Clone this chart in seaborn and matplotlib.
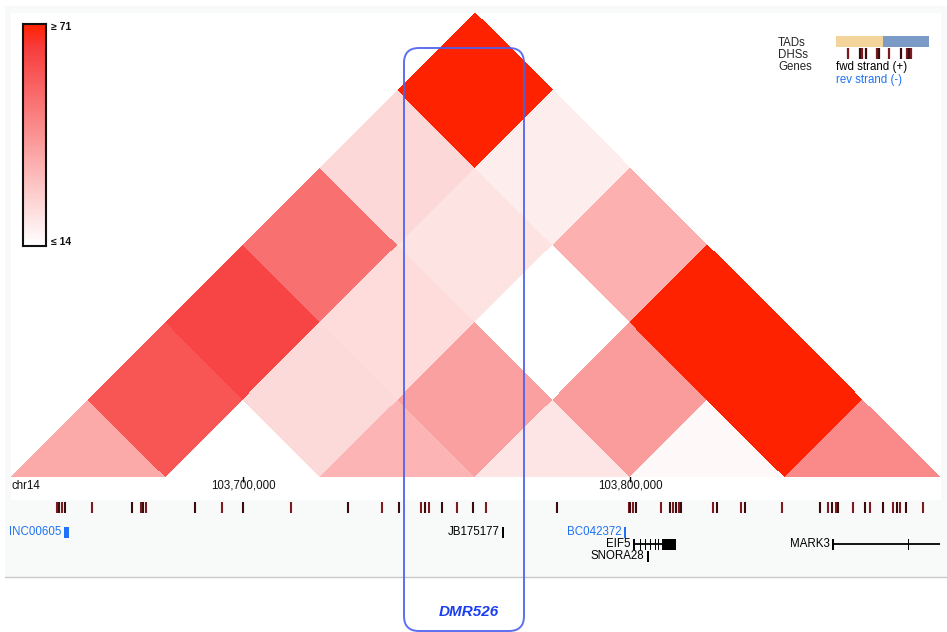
import numpy as np
import pandas as pd
import matplotlib
matplotlib.use("Agg")
import matplotlib.pyplot as plt
import seaborn as sns
from matplotlib.colors import LinearSegmentedColormap
from matplotlib.transforms import Affine2D, offset_copy
from matplotlib.patches import Rectangle, FancyBboxPatch

sns.set_theme(style="white")
plt.rcParams["font.family"] = ["Liberation Sans", "DejaVu Sans"]

# ---------------- data ----------------
CHROM = "chr14"
BIN_SIZE = 40_000
bin_starts = [103_640_000, 103_680_000, 103_720_000, 103_760_000, 103_800_000, 103_840_000]
nan = np.nan
# upper-triangle contact matrix (lower triangle unused)
contacts = [
    [36.6, 58.7, 63.2, 51.6, 24.3, 72.0],
    [nan, 12.0, 24.0, 23.2, 21.4, 18.7],
    [nan, nan, 33.7, 39.0, 10.0, 34.8],
    [nan, nan, nan, 21.1, 40.0, 78.0],
    [nan, nan, nan, nan, 15.8, 74.0],
    [nan, nan, nan, nan, nan, 44.8],
]
color_min, color_max = 14, 71

axis_ticks = [103_700_000, 103_800_000]
axis_tick_labels = ["103,700,000", "103,800,000"]

dhs_kb = [103651.9, 103652.5, 103653.2, 103654.0, 103661.0, 103671.3, 103673.6,
          103674.2, 103674.9, 103687.6, 103694.6, 103700.0, 103712.4, 103727.1,
          103735.9, 103740.3, 103746.0, 103747.0, 103748.1, 103751.4, 103755.3,
          103759.4, 103762.8, 103781.1, 103799.7, 103800.0, 103800.8, 103801.6,
          103808.0, 103810.3, 103811.1, 103811.9, 103812.7, 103813.2, 103821.4,
          103822.5, 103828.7, 103829.7, 103839.3, 103849.1, 103851.2, 103852.2,
          103853.2, 103853.7, 103857.6, 103860.7, 103862.0, 103865.4, 103868.0,
          103869.0, 103869.8, 103871.3, 103875.7]

gene_names = ["INC00605", "JB175177", "BC042372", "EIF5", "SNORA28", "MARK3"]
gene_starts = [103_653_750, 103_766_900, 103_798_400, 103_800_800, 103_804_400, 103_852_200]
gene_ends = [103_655_050, 103_767_400, 103_798_900, 103_811_900, 103_804_900, 103_880_200]
gene_strands = ["-", "+", "-", "+", "+", "+"]
gene_rows = [532, 532, 532, 544, 556, 544]
gene_exons = [
    [(103_653_750, 103_655_050)],
    [(103_766_900, 103_767_400)],
    [(103_798_400, 103_798_900)],
    [(103_800_800, 103_801_300), (103_802_500, 103_802_800), (103_803_800, 103_804_100),
     (103_805_100, 103_805_400), (103_806_400, 103_806_700), (103_807_100, 103_807_400),
     (103_808_300, 103_811_900)],
    [(103_804_400, 103_804_900)],
    [(103_852_200, 103_852_800), (103_871_700, 103_872_100)],
]

region_name = "DMR526"

# ---------------- layout ----------------
W, H = 947, 632
VIEW = (103_637_200, 103_881_900)
BASE_Y = 477          # pixel row of the heatmap baseline
LEVEL_PX = 77.33      # height of one diagonal step
FWD_COLOR = "black"
REV_COLOR = "#1f72f5"
DHS_COLORS = ["#7d1a1f", "#3a0c0e"]

fig = plt.figure(figsize=(W / 100, H / 100), dpi=100)

def pixel_axes(z):
    a = fig.add_axes([0, 0, 1, 1], zorder=z)
    a.set_xlim(0, W)
    a.set_ylim(H, 0)
    a.set_axis_off()
    a.patch.set_visible(False)
    return a

# background panels
ax_back = pixel_axes(0)
ax_back.add_patch(Rectangle((5, 6), W - 5, 571, fc="#f8f9f9", ec="none"))
ax_back.add_patch(Rectangle((11, 13), 930, 487, fc="white", ec="none"))
ax_back.plot([5, W], [577, 577], color="#c9c9c9", lw=1)

# genomic tracks (x in bp)
ax_gen = fig.add_axes([0, 0, 1, 1], zorder=1)
ax_gen.set_xlim(*VIEW)
ax_gen.set_ylim(H, 0)
ax_gen.set_axis_off()
ax_gen.patch.set_visible(False)

ax_gen.vlines(axis_ticks, 470, 482, color="black", lw=1)
for pos, lab in zip(axis_ticks, axis_tick_labels):
    ax_gen.text(pos, 486, lab, ha="center", va="center", fontsize=8.3, color="#111111")

dhs_pos = [k * 1000 for k in dhs_kb]
ax_gen.vlines(dhs_pos, 502, 513, colors=[DHS_COLORS[i % 2] for i in range(len(dhs_pos))], lw=1.5)

label_tf = offset_copy(ax_gen.transData, fig=fig, x=-2.5, y=0, units="dots")
for name, s, e, strand, y, exons in zip(gene_names, gene_starts, gene_ends,
                                          gene_strands, gene_rows, gene_exons):
    col = REV_COLOR if strand == "-" else FWD_COLOR
    ax_gen.plot([s, e], [y, y], color=col, lw=1.3, solid_capstyle="butt")
    for xs, xe in exons:
        ax_gen.add_patch(Rectangle((xs, y - 5.5), xe - xs, 11, fc=col, ec="none"))
    ax_gen.text(s, y, name, ha="right", va="center", fontsize=8.3, color=col,
                transform=label_tf)

# triangular contact heatmap: matrix cell (row, col) rotated 45 degrees
cmap = LinearSegmentedColormap.from_list(
    "contacts", [(0.0, "#ffffff"), (0.9, "#f73c3c"), (1.0, "#ff2200")])
df = pd.DataFrame(contacts, index=bin_starts, columns=bin_starts)
mask = np.tril(np.ones(df.shape, dtype=bool), k=-1)

ax_hm = fig.add_axes([0, 1 - BASE_Y / H, 1, BASE_Y / H], zorder=2)
sns.heatmap(df, mask=mask, cmap=cmap, vmin=color_min, vmax=color_max,
            cbar=False, linewidths=0, ax=ax_hm)
mesh = ax_hm.collections[0]
g0 = bin_starts[0]
rot = Affine2D(np.array([[BIN_SIZE / 2, BIN_SIZE / 2, g0],
                         [1.0, -1.0, 0.0],
                         [0.0, 0.0, 1.0]]))
mesh.set_transform(rot + ax_hm.transData)
ax_hm.set_xlim(*VIEW)
ax_hm.set_ylim(0, BASE_Y / LEVEL_PX)
ax_hm.set_axis_off()
ax_hm.patch.set_visible(False)

# overlay: labels, legend, highlighted region
ax_front = pixel_axes(3)
ax_front.text(11, 486, CHROM, ha="left", va="center", fontsize=8.3, color="#111111")

ax_front.text(778, 43, "TADs", ha="left", va="center", fontsize=8.3)
ax_front.text(778, 55, "DHSs", ha="left", va="center", fontsize=8.3)
ax_front.text(778, 67, "Genes", ha="left", va="center", fontsize=8.3)
ax_front.add_patch(Rectangle((836, 36), 47, 11, fc="#f3d49b", ec="none"))
ax_front.add_patch(Rectangle((883, 36), 46, 11, fc="#7c9ac6", ec="none"))
legend_dhs = [848, 860, 862, 866, 877, 879, 889, 901, 907, 909, 911]
ax_front.vlines(legend_dhs, 48, 59, colors=[DHS_COLORS[i % 2] for i in range(len(legend_dhs))], lw=1.6)
ax_front.text(836, 67, "fwd strand (+)", ha="left", va="center", fontsize=8.3, color=FWD_COLOR)
ax_front.text(836, 79.5, "rev strand (-)", ha="left", va="center", fontsize=8.3, color=REV_COLOR)

ax_front.add_patch(FancyBboxPatch((404, 48), 120, 583,
                                  boxstyle="round,pad=0,rounding_size=15",
                                  fc="none", ec="#4a60f0", lw=1.4, alpha=0.9))
ax_front.text(469, 612, region_name, ha="center", va="center", fontsize=11,
              fontweight="bold", fontstyle="italic", color="#1c3ef2")

# colour scale
ax_cb = fig.add_axes([22.7 / W, 1 - 246 / H, 23 / W, 222 / H], zorder=4)
grad = np.linspace(color_max, color_min, 200)[:, None]
sns.heatmap(grad, cmap=cmap, vmin=color_min, vmax=color_max, cbar=False,
            xticklabels=False, yticklabels=False, ax=ax_cb)
for sp in ax_cb.spines.values():
    sp.set_visible(True)
    sp.set_color("#111111")
    sp.set_linewidth(1.5)
ax_front.text(51, 27, f"\u2265 {color_max}", ha="left", va="center", fontsize=7.5,
              fontweight="bold", color="#111111")
ax_front.text(51, 242, f"\u2264 {color_min}", ha="left", va="center", fontsize=7.5,
              fontweight="bold", color="#111111")

fig.savefig("out.png", dpi=100)
